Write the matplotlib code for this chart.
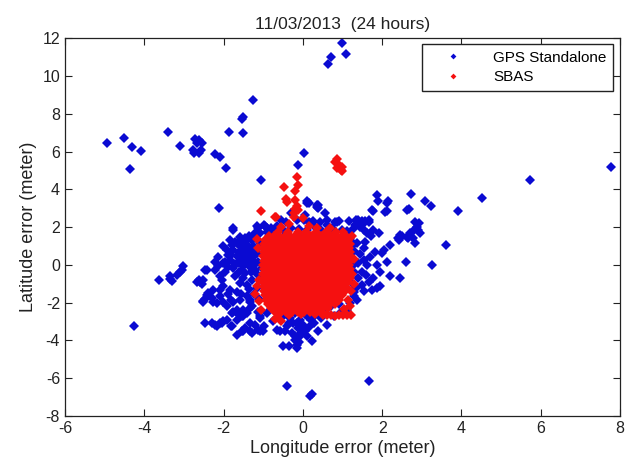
import matplotlib
matplotlib.use("Agg")
import matplotlib.pyplot as plt

plt.rcParams['font.family'] = ['Liberation Sans', 'DejaVu Sans']
plt.rcParams['axes.unicode_minus'] = False

# GPS standalone : isolated points far from the cloud
gps_outliers = [
    (0.99, 11.77), (0.71, 11.03), (0.64, 10.62), (1.09, 11.17),
    (-1.26, 8.74), (-1.51, 7.82), (-1.53, 7.74), (-1.87, 7.04), (-1.51, 6.96),
    (-3.41, 7.04), (-4.52, 6.73), (-4.93, 6.44), (-4.30, 6.23), (-4.08, 6.04),
    (-3.11, 6.30), (-4.35, 5.07),
    (-2.71, 6.69), (-2.62, 6.62), (-2.66, 6.48), (-2.55, 6.48), (-2.76, 6.06),
    (-2.61, 5.92), (-2.74, 5.95), (-2.57, 6.10),
    (-2.22, 5.86), (-2.09, 5.74), (-1.94, 5.14),
    (0.03, 5.92), (-0.13, 5.30), (-1.06, 4.50), (-2.11, 3.01),
    (7.78, 5.21), (5.73, 4.50), (4.52, 3.53), (3.91, 2.88), (3.60, 1.03), (3.27, 0.01),
    (2.74, 3.76), (2.67, 2.95), (3.07, 3.36), (3.22, 3.13),
    (1.88, 3.71), (1.90, 3.41), (2.15, 3.36), (2.12, 2.88), (1.76, 2.88),
    (0.11, 3.39), (0.16, 3.30), (0.39, 3.15), (0.36, 3.05),
    (-4.25, -3.26), (-0.40, -6.40), (0.19, -6.92), (0.24, -6.84), (1.66, -6.13),
]

# GPS standalone : left part of the cloud
gps_left = [
    (-3.64, -0.79), (-3.34, -0.61), (-3.31, -0.87), (-3.18, -0.52), (-3.10, -0.35),
    (-3.03, -0.08), (-3.06, -0.26), (-3.36, -0.72),
    (-2.67, -0.92), (-2.63, -0.79), (-2.59, -0.88), (-2.55, -1.00), (-2.51, -0.79), (-2.47, -0.26),
    (-2.52, -1.93), (-2.46, -1.80), (-2.42, -1.58), (-2.38, -1.50), (-2.30, -1.76), (-2.26, -1.32),
    (-2.17, -2.02), (-2.09, -1.67), (-2.09, -1.32),
    (-2.42, -0.26), (-2.21, -0.26), (-2.22, 0.18), (-2.13, -0.08), (-2.13, 0.44), (-2.01, 0.09),
    (-1.96, 0.18), (-2.04, -0.79), (-2.09, -0.61), (-1.96, -0.35),
    (-2.01, 0.98), (-1.92, 0.80), (-1.84, 1.33), (-1.75, 1.94), (-1.71, 1.24), (-1.58, 1.50),
    (-1.46, 1.41), (-1.37, 1.54), (-1.29, 1.33), (-1.21, 1.68), (-1.08, 1.68), (-0.91, 1.94),
    (-1.12, 1.94), (-0.99, 2.11),
    (-1.75, 0.80), (-1.58, 0.98), (-1.41, 1.06), (-1.25, 0.98), (-1.08, 1.15), (-1.67, 0.45),
    (-1.50, 0.53), (-1.33, 0.62), (-1.16, 0.62), (-1.84, 0.27), (-1.63, 0.09), (-1.46, 0.18),
    (-1.29, 0.27), (-1.12, 0.18), (-1.75, -0.17), (-1.54, -0.26), (-1.37, -0.08), (-1.21, -0.26),
    (-1.04, -0.17),
    (-1.71, -0.61), (-1.50, -0.70), (-1.58, -0.97), (-1.41, -1.05), (-1.29, -0.79), (-1.16, -1.23),
    (-1.08, -0.79), (-2.01, -1.14), (-1.84, -1.32), (-1.67, -1.41), (-1.41, -1.67), (-1.33, -1.85),
    (-1.58, -1.85), (-1.80, -1.85),
    (-1.66, 1.15), (-1.52, 1.22), (-1.40, 1.30), (-1.20, 1.40), (-1.62, 0.70), (-1.45, 0.80),
    (-1.30, 0.85), (-1.18, 0.80), (-1.80, 0.55), (-1.55, 0.35), (-1.40, 0.40), (-1.22, 0.45),
    (-1.70, 0.05), (-1.52, -0.05), (-1.38, 0.10), (-1.25, -0.05), (-1.62, -0.40), (-1.45, -0.45),
    (-1.32, -0.35), (-1.15, -0.50), (-1.88, -0.10), (-1.90, 0.50), (-1.78, 1.05), (-1.35, -1.30),
    (-1.22, -1.55), (-1.10, -1.80), (-1.55, -1.55), (-1.90, -1.55),
    (-2.46, -3.08), (-2.30, -3.08), (-2.17, -3.26), (-2.04, -3.08), (-1.92, -2.90), (-1.79, -3.26),
    (-1.66, -2.90), (-1.66, -3.70), (-1.50, -3.52), (-1.33, -3.08), (-1.33, -3.52), (-1.08, -3.52),
    (-0.99, -3.26), (-1.50, -2.73), (-1.66, -2.55), (-1.79, -2.55), (-1.92, -2.20), (-2.22, -3.17),
    (-2.09, -3.08), (-2.01, -2.99), (-1.80, -3.26), (-1.54, -3.52), (-1.46, -3.35),
    (-1.29, -3.61), (-1.21, -3.17), (-1.12, -3.43), (-1.00, -3.52), (-1.75, -2.47), (-1.63, -2.55),
    (-1.50, -2.38), (-1.41, -2.55), (-1.33, -2.29), (-1.54, -2.73), (-1.08, -2.73), (-1.67, -2.38),
    (-1.29, -2.20), (-1.12, -2.47), (-0.91, -2.56), (-1.08, -2.82), (-2.51, -1.94),
    (-2.26, -1.94), (-2.01, -1.94), (-1.75, -1.94), (-1.33, -1.94),
]

# GPS standalone : below the SBAS blob
gps_bottom = [
    (-0.66, -3.43), (-0.57, -3.52), (-0.49, -4.31), (-0.36, -4.31), (-0.15, -4.40), (-0.20, -3.96),
    (-0.28, -3.61), (-0.41, -3.26), (-0.24, -3.08), (-0.11, -3.35), (0.02, -3.52), (0.10, -3.79),
    (-0.32, -2.82), (-0.07, -2.90), (0.10, -2.73), (0.27, -3.08), (0.06, -3.52), (0.39, -3.52),
    (0.22, -4.05), (0.61, -3.17), (0.02, -2.38), (-0.07, -3.79), (-0.49, -2.70), (-0.19, -3.78),
    (-0.10, -4.10), (0.00, -3.20), (-0.15, -3.10), (-0.35, -3.05), (-0.05, -3.60), (0.15, -3.30),
    (0.20, -2.90), (0.30, -2.65), (0.45, -2.80), (-0.60, -2.75), (-0.75, -2.95), (-0.45, -3.50),
    (0.40, -2.55), (0.55, -2.50), (0.78, -2.73), (0.94, -2.56), (0.05, -2.60), (-0.20, -2.55),
    (-0.15, -4.25), (0.50, -2.30), (0.70, -2.20), (0.90, -2.05),
]

# GPS standalone : right part and upper fringe
gps_right = [
    (0.10, 3.27), (0.35, 3.19), (0.39, 3.00), (0.56, 2.74), (0.06, 2.65), (0.86, 2.29),
    (1.40, 2.38), (1.53, 2.20), (1.66, 2.29), (1.45, 2.02), (1.32, 2.11), (1.74, 2.91),
    (2.12, 3.27), (2.08, 2.82), (2.63, 2.91), (1.91, 1.68), (1.62, 1.68), (1.57, 1.24),
    (1.36, 1.15), (1.24, 1.24), (2.21, 1.06), (2.42, 1.33), (2.46, 1.59), (2.63, 1.50),
    (2.71, 1.68), (2.80, 1.85), (2.88, 2.02), (2.92, 2.20), (2.84, 2.29), (2.84, 1.15),
    (2.79, 1.42), (2.95, 1.68), (2.90, 1.86), (2.64, 1.42), (2.49, 1.55), (2.39, 1.42),
    (2.04, 0.80), (2.00, 0.62), (1.83, 0.71), (1.70, 0.44), (1.53, 0.27), (1.40, 0.09),
    (1.62, 0.00), (1.87, 0.00), (2.12, 0.18), (2.21, -0.61), (2.46, -0.70), (2.59, 0.18),
    (1.95, -0.35), (1.78, -0.70), (1.66, -0.88), (1.87, -1.23), (1.74, -1.32), (1.49, -1.05),
    (1.40, -0.70), (1.28, -0.35), (1.32, 0.09), (1.19, 0.44), (1.24, -0.08), (1.28, -1.67),
    (1.36, -1.85), (1.19, -2.02), (1.11, -2.38),
    (1.30, 0.75), (1.45, 0.60), (1.55, 0.90), (1.25, 1.00), (1.50, -0.35), (1.60, -0.55),
    (1.35, -1.20), (1.25, -0.95), (1.55, -1.40), (1.95, -1.10), (1.30, -1.45),
    (0.02, 2.38), (0.18, 2.20), (0.31, 2.02), (0.44, 2.29), (0.61, 2.11), (0.73, 1.94),
    (0.82, 1.76), (0.98, 1.85), (1.11, 1.68), (1.19, 1.41), (1.07, 1.33), (-0.30, 2.74),
    (-0.16, 2.39), (-0.55, 2.39), (-0.43, 2.25), (0.16, 2.25), (0.26, 2.30), (0.62, 2.39),
    (0.82, 2.25), (0.92, 2.30), (1.17, 2.35), (1.33, 2.39), (1.48, 2.30), (1.58, 2.35),
    (1.68, 2.39), (1.43, 2.04), (1.53, 1.86), (1.27, 1.89), (1.12, 1.77), (1.78, 1.86),
    (1.73, 1.51), (-1.16, 2.04), (-0.95, 2.07), (-0.80, 1.95), (-0.65, 2.04), (-1.77, 1.86),
    (-0.50, 1.85), (-0.30, 1.95), (-0.10, 1.90), (0.10, 1.85), (0.45, 1.85), (-0.75, 1.80),
    (-0.90, 1.75),
]

# SBAS : the dense core, one row of longitude values per latitude level
sbas_rows = [
    (1.72, [-0.62, -0.38, -0.12, 0.08, 0.33, 0.58, 0.84, 1.02]),
    (1.55, [-0.86, -0.72, -0.60, -0.45, -0.33, -0.19, -0.05, 0.07, 0.21, 0.33, 0.47, 0.60, 0.72, 0.86, 0.98, 1.10]),
    (1.33, [-0.95, -0.81, -0.69, -0.55, -0.42, -0.30, -0.16, -0.03, 0.10, 0.24, 0.37, 0.49, 0.63, 0.76, 0.89, 1.01, 1.14]),
    (1.12, [-0.99, -0.87, -0.74, -0.61, -0.47, -0.36, -0.22, -0.09, 0.04, 0.17, 0.30, 0.43, 0.56, 0.70, 0.82, 0.95, 1.08, 1.18]),
    (0.90, [-1.00, -0.90, -0.78, -0.64, -0.52, -0.39, -0.25, -0.13, 0.00, 0.13, 0.27, 0.39, 0.52, 0.65, 0.77, 0.91, 1.04, 1.17]),
    (0.68, [-0.97, -0.85, -0.71, -0.58, -0.45, -0.32, -0.19, -0.06, 0.07, 0.20, 0.34, 0.46, 0.60, 0.72, 0.86, 0.98, 1.11, 1.19]),
    (0.45, [-1.01, -0.88, -0.76, -0.62, -0.49, -0.37, -0.23, -0.10, 0.03, 0.16, 0.29, 0.42, 0.55, 0.68, 0.81, 0.94, 1.07, 1.18]),
    (0.22, [-0.98, -0.84, -0.72, -0.59, -0.46, -0.33, -0.20, -0.07, 0.06, 0.19, 0.32, 0.45, 0.58, 0.71, 0.84, 0.97, 1.10, 1.20]),
    (0.00, [-1.00, -0.89, -0.75, -0.63, -0.50, -0.36, -0.24, -0.11, 0.02, 0.15, 0.28, 0.41, 0.54, 0.67, 0.80, 0.93, 1.06, 1.17]),
    (-0.23, [-0.97, -0.85, -0.72, -0.58, -0.46, -0.33, -0.19, -0.07, 0.07, 0.19, 0.33, 0.45, 0.59, 0.71, 0.84, 0.97, 1.10, 1.19]),
    (-0.46, [-1.00, -0.88, -0.75, -0.62, -0.49, -0.36, -0.23, -0.10, 0.03, 0.16, 0.29, 0.42, 0.55, 0.68, 0.81, 0.94, 1.07, 1.16]),
    (-0.69, [-0.98, -0.84, -0.71, -0.59, -0.45, -0.32, -0.20, -0.06, 0.06, 0.20, 0.32, 0.46, 0.58, 0.72, 0.84, 0.98, 1.10, 1.18]),
    (-0.92, [-1.01, -0.87, -0.75, -0.62, -0.49, -0.36, -0.22, -0.10, 0.03, 0.16, 0.29, 0.42, 0.55, 0.68, 0.81, 0.94, 1.06, 1.15]),
    (-1.15, [-0.97, -0.85, -0.71, -0.58, -0.46, -0.32, -0.19, -0.07, 0.07, 0.19, 0.33, 0.45, 0.58, 0.71, 0.85, 0.97, 1.09]),
    (-1.38, [-0.99, -0.87, -0.74, -0.61, -0.48, -0.35, -0.22, -0.09, 0.04, 0.17, 0.30, 0.43, 0.56, 0.69, 0.82, 0.95, 1.07]),
    (-1.61, [-0.96, -0.83, -0.70, -0.57, -0.45, -0.31, -0.18, -0.05, 0.08, 0.21, 0.34, 0.46, 0.60, 0.73, 0.86, 0.98]),
    (-1.84, [-0.93, -0.80, -0.68, -0.54, -0.41, -0.28, -0.15, -0.02, 0.11, 0.24, 0.37, 0.50, 0.63, 0.76, 0.90]),
    (-2.07, [-0.88, -0.75, -0.62, -0.49, -0.36, -0.23, -0.10, 0.03, 0.16, 0.29, 0.42, 0.55, 0.68, 0.82]),
    (-2.30, [-0.80, -0.67, -0.54, -0.41, -0.28, -0.15, -0.02, 0.11, 0.24, 0.37, 0.50, 0.64]),
    (-2.50, [-0.70, -0.55, -0.42, -0.27, -0.12, 0.03, 0.18, 0.33, 0.48]),
]

# SBAS : scattered points around the core
sbas_extra = [
    (0.85, 5.62), (0.80, 5.45), (0.90, 5.30), (0.99, 5.20), (0.95, 5.05), (1.00, 4.95), (0.86, 5.15),
    (-0.16, 4.68), (-0.13, 4.24), (-0.47, 4.12), (-0.19, 3.89), (-0.43, 3.50), (-0.19, 3.45),
    (-0.16, 3.10), (-0.19, 2.95), (-0.22, 2.74), (-1.06, 2.83), (-0.67, 2.53), (-0.23, 2.56),
    (0.00, 2.47), (0.69, 1.95), (-0.40, 3.35), (-0.11, 2.91), (-0.70, 2.56), (0.15, 2.05),
    (-0.35, 2.15), (0.35, 1.95), (-0.55, 2.00),
    (-1.10, -0.80), (-1.15, -1.10), (-1.20, -1.55), (-1.10, -1.93), (-1.06, -2.37), (-1.12, 0.90),
    (-1.15, 1.35),
    (-0.60, -2.62), (-0.35, -2.65), (-0.05, -2.62), (0.30, -2.60), (-0.70, -2.85), (-0.55, -2.95),
    (0.52, -2.64), (0.62, -2.66), (0.72, -2.64), (0.82, -2.68), (0.92, -2.64), (1.02, -2.66),
    (1.12, -2.64), (1.22, -2.66), (1.19, -2.20), (1.05, -2.35),
    (1.25, -0.50), (1.28, -1.00), (1.22, -1.40), (1.30, 0.30), (1.25, 1.55), (1.15, -1.85),
]

gps = gps_outliers + gps_left + gps_bottom + gps_right
gps_x = [p[0] for p in gps]
gps_y = [p[1] for p in gps]

sbas_x = [x for y, xs in sbas_rows for x in xs] + [p[0] for p in sbas_extra]
sbas_y = [y for y, xs in sbas_rows for x in xs] + [p[1] for p in sbas_extra]

fig = plt.figure(figsize=(6.29, 4.66), dpi=100)
ax = fig.add_axes([0.1033, 0.1073, 0.8824, 0.8105])

ax.plot(gps_x, gps_y, linestyle='none', marker='D', markersize=4.9,
        color='#0a0ad2', markeredgewidth=0, label='GPS Standalone')
ax.plot(sbas_x, sbas_y, linestyle='none', marker='D', markersize=4.9,
        color='#f51010', markeredgewidth=0, label='SBAS')

ax.set_xlim(-6, 8)
ax.set_ylim(-8, 12)
ax.set_xticks(range(-6, 9, 2))
ax.set_yticks(range(-8, 13, 2))
ax.tick_params(direction='in', top=True, right=True, length=5, width=0.8,
               labelsize=11.5, colors='#222222')
for s in ax.spines.values():
    s.set_linewidth(0.9)
    s.set_color('#222222')

ax.set_title('11/03/2013  (24 hours)', fontsize=12.5, pad=7, color='#222222')
ax.set_xlabel('Longitude error (meter)', fontsize=13, labelpad=3, color='#222222')
ax.set_ylabel('Latitude error (meter)', fontsize=13, labelpad=4, color='#222222')

leg = ax.legend(loc='upper right', bbox_to_anchor=(0.988, 0.985), borderaxespad=0,
                fontsize=11, markerscale=0.6, handlelength=3.2, handletextpad=1.0,
                borderpad=0.45, labelspacing=0.35, fancybox=False, framealpha=1,
                edgecolor='#222222')
leg.get_frame().set_linewidth(1.0)

plt.savefig('out.png', dpi=100)
